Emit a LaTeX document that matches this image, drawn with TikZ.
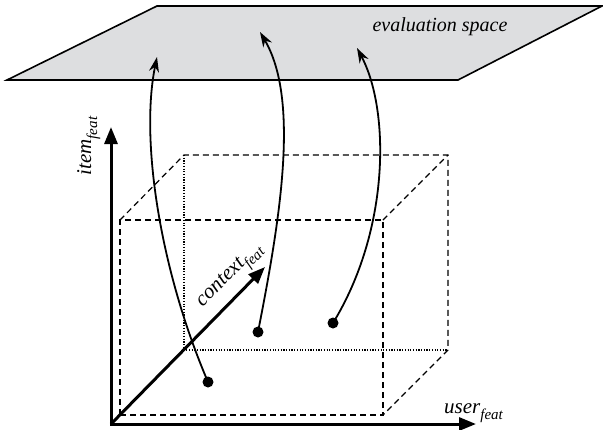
\documentclass[tikz,border=0pt]{standalone}
\usepackage{fontspec}
\setmainfont{Liberation Serif}
\usetikzlibrary{arrows.meta}

\definecolor{planegray}{RGB}{221,222,224}

\newcommand{\featsub}{\raisebox{-6pt}{\fontsize{15}{15}\selectfont feat}}

\tikzset{
	axis/.style={line width=3pt, {Triangle[length=17pt,width=13pt]}-{Triangle[length=17pt,width=13pt]}},
	contextaxis/.style={line width=3pt, -{Triangle[length=17pt,width=13pt]}},
	boxdash/.style={line width=1.2pt, dash pattern=on 6pt off 4pt},
	boxdot/.style={line width=1.2pt, dash pattern=on 1.2pt off 1.5pt},
	mapping/.style={line width=1.8pt, -{Stealth[length=15pt,width=10pt]}},
	point/.style={circle, fill, inner sep=0pt, minimum size=11pt},
	axislabel/.style={font=\fontsize{21}{24}\selectfont\itshape, inner sep=0pt}
}

\begin{document}
\begin{tikzpicture}[x=1pt, y=-1pt]

		\useasboundingbox (0,0) rectangle (603,429);

		% evaluation plane

		\draw[fill=planegray, line width=1.6pt] (7,80) -- (458,80) -- (602,6) -- (157,6) -- cycle;

		\node[axislabel, anchor=base, font=\fontsize{20}{24}\selectfont\itshape] (evlabel) at (440,31) {evaluation space};

		% define point

		\coordinate (O)  at (111,424);

		\coordinate (I)  at (111,127);

		\coordinate (U)  at (476,424);

		\coordinate (C)  at (265,267);

		% box corners, front then back

		\coordinate (F1) at (120,415);
		\coordinate (F2) at (383,415);
		\coordinate (F3) at (383,220);
		\coordinate (F4) at (120,220);

		\coordinate (B1) at (184,350);
		\coordinate (B2) at (448,350);
		\coordinate (B3) at (448,155);
		\coordinate (B4) at (184,155);

		% box

		\draw[boxdash] (F1) -- (F2) -- (F3) -- (F4) -- cycle;

		\draw[boxdash] (F4) -- (B4) -- (B3) -- (B2) -- (F2);

		\draw[boxdash] (F3) -- (B3);

		\draw[boxdot] (B4) -- (B1) -- (B2);

		% axes

		\draw[axis] (I) -- (O) -- (U);

		\draw[contextaxis] (O) -- (C);

		\node[axislabel, rotate=90, anchor=base] (itemlabel) at (91,146) {item\featsub};

		\node[axislabel, rotate=45] (contextlabel) at (231,277) {context\featsub};

		\node[axislabel, anchor=base west] (userlabel) at (444,413) {user\featsub};

		% points and their images

		\node[point] (p1) at (208,382) {};

		\node[point] (p2) at (258,332) {};

		\node[point] (p3) at (333,323) {};

		\coordinate (e1) at (157,57);

		\coordinate (e2) at (260,32);

		\coordinate (e3) at (357,48);

		\draw[mapping] (p1.center) .. controls (160,270) and (140,140) .. (e1);

		\draw[mapping] (p2.center) .. controls (280,220) and (300,100) .. (e2);

		\draw[mapping] (p3.center) .. controls (390,230) and (390,110) .. (e3);

	\end{tikzpicture}
\end{document}
